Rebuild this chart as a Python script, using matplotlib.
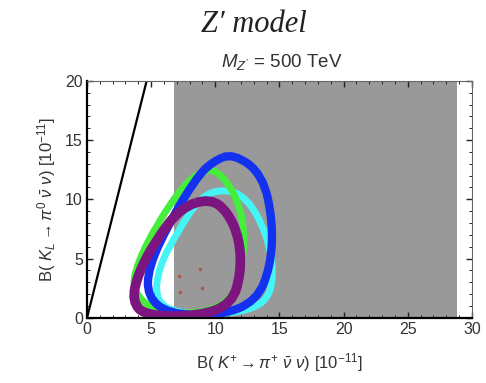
import matplotlib
matplotlib.use("Agg")
import matplotlib.pyplot as plt
from matplotlib.path import Path
from matplotlib.patches import PathPatch
from matplotlib.ticker import MultipleLocator

plt.rcParams['font.family'] = ['Liberation Sans', 'DejaVu Sans']
plt.rcParams['mathtext.fontset'] = 'custom'
plt.rcParams['mathtext.rm'] = 'Liberation Sans'
plt.rcParams['mathtext.it'] = 'Liberation Sans:italic'

# excluded band in B(K+ -> pi+ nu nu) (grey)
excl_lo, excl_hi = 6.8, 28.8
# Grossman-Nir bound: B(KL) <= 4.3 B(K+)
gn_slope = 4.3

# band outlines (x, y) in units of 1e-11
cyan_x = [10.6, 12.45, 14.0, 14.6, 14.0, 11.15, 7.0, 5.3, 5.6, 7.0, 8.8]
cyan_y = [10.9, 10.2, 7.15, 3.8, 1.2, 0.3, 0.35, 1.5, 4.3, 7.15, 10.2]

green_x = [10.1, 11.5, 12.3, 12.1, 11.6, 9.8, 5.6, 3.5, 3.9, 5.5, 7.6, 9.0]
green_y = [12.5, 10.6, 7.7, 4.3, 2.1, 0.5, 0.3, 2.2, 4.6, 8.0, 11.3, 12.4]

blue_x = [11.4, 13.7, 14.5, 14.3, 13.2, 10.4, 6.4, 4.7, 4.8, 6.4, 8.5, 9.8]
blue_y = [13.9, 12.1, 8.0, 4.3, 1.4, 0.2, 0.3, 1.8, 4.3, 8.0, 11.8, 13.2]

purple_x = [9.6, 11.0, 11.9, 12.0, 11.3, 8.8, 4.6, 3.5, 4.0, 5.4, 7.3]
purple_y = [10.1, 8.9, 6.6, 3.8, 1.2, 0.15, 0.15, 1.4, 3.8, 6.6, 9.3]

# sample points
pts_x = [7.2, 8.8, 7.25, 8.95]
pts_y = [3.55, 4.1, 2.2, 2.55]


def ring_path(xs, ys):
    # closed smooth curve using the points as quadratic control points
    n = len(xs)
    mid = [((xs[i] + xs[(i + 1) % n]) / 2, (ys[i] + ys[(i + 1) % n]) / 2) for i in range(n)]
    verts = [mid[-1]]
    codes = [Path.MOVETO]
    for i in range(n):
        verts += [(xs[i], ys[i]), mid[i]]
        codes += [Path.CURVE3, Path.CURVE3]
    return Path(verts, codes)


fig = plt.figure(figsize=(4.86, 3.83), dpi=100)
ax = fig.add_axes([0.179, 0.170, 0.792, 0.619])

ax.axvspan(excl_lo, excl_hi, color='#999999', lw=0, zorder=0)
ax.plot([0, 20 / gn_slope], [0, 20], color='black', lw=1.6, zorder=2)

rings = [
    (cyan_x, cyan_y, '#45f5f5', 5.0),
    (green_x, green_y, '#44ee3a', 5.0),
    (blue_x, blue_y, '#1431f0', 6.0),
    (purple_x, purple_y, '#7d1580', 7.0),
]
for i, (xs, ys, col, lw) in enumerate(rings):
    ax.add_patch(PathPatch(ring_path(xs, ys), facecolor='none', edgecolor=col,
                           lw=lw, joinstyle='round', zorder=3 + i))

ax.scatter(pts_x, pts_y, s=7, color='#b0584f', lw=0, zorder=8)

ax.set_xlim(0, 30)
ax.set_ylim(0, 20)
ax.xaxis.set_major_locator(MultipleLocator(5))
ax.xaxis.set_minor_locator(MultipleLocator(1))
ax.yaxis.set_major_locator(MultipleLocator(5))
ax.yaxis.set_minor_locator(MultipleLocator(1))
ax.tick_params(which='both', direction='in', top=True, right=True, color='#222222')
ax.tick_params(which='major', length=4, width=1.0, labelsize=11.5, labelcolor='#333333', pad=3)
ax.tick_params(which='minor', length=2, width=0.7)
for side in ['bottom', 'left']:
    ax.spines[side].set_linewidth(1.6)
    ax.spines[side].set_color('black')
for side in ['top', 'right']:
    ax.spines[side].set_linewidth(0.8)
    ax.spines[side].set_color('#666666')
# keep the band edges clear of the frame line
for sp in ax.spines.values():
    sp.set_zorder(10)

ax.set_xlabel(r'B( $K^{+}\rightarrow\pi^{+}\ \bar{\nu}\ \nu$) [$10^{-11}$]',
              fontsize=12, color='#333333', labelpad=10)
ax.set_ylabel(r'B( $K_L\rightarrow\pi^{0}\ \bar{\nu}\ \nu$) [$10^{-11}$]',
              fontsize=12, color='#333333', labelpad=5)

fig.text(0.523, 0.935, 'Z\u2032 model', ha='center', va='center', fontsize=22,
         family=['Liberation Serif', 'DejaVu Serif'], style='italic', color='#222222')
fig.text(0.580, 0.838, '$M_{Z^{\u2019}}$ = 500 TeV', ha='center', va='center',
         fontsize=13.5, color='#333333')

fig.savefig('out.png', dpi=100)
